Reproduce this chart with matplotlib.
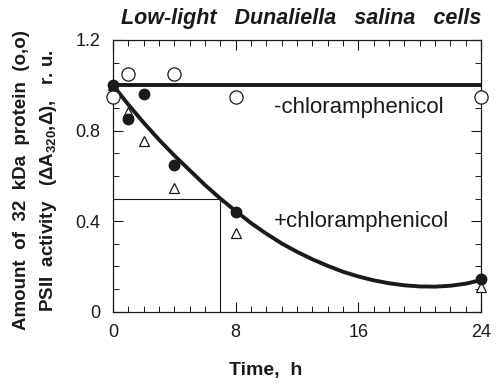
import numpy as np
import matplotlib
matplotlib.use("Agg")
import matplotlib.pyplot as plt
from matplotlib.ticker import MultipleLocator

plt.rcParams["font.family"] = ["Liberation Sans", "DejaVu Sans"]
plt.rcParams["mathtext.fontset"] = "custom"
plt.rcParams["mathtext.bf"] = "Liberation Sans:bold"
plt.rcParams["mathtext.rm"] = "Liberation Sans:bold"
plt.rcParams["mathtext.default"] = "bf"

# -chloramphenicol, 32 kDa protein (open circles)
t_open = [0, 1, 4, 8, 24]
y_open = [0.95, 1.05, 1.05, 0.95, 0.95]

# +chloramphenicol, 32 kDa protein (filled circles)
t_fill = [0, 1, 2, 4, 8, 24]
y_fill = [1.0, 0.85, 0.96, 0.65, 0.44, 0.145]

# +chloramphenicol, PSII activity (triangles)
t_tri = [0, 1, 2, 4, 8, 24]
y_tri = [1.0, 0.88, 0.755, 0.545, 0.35, 0.11]

# fitted curves
t_flat = [0, 24]
y_flat = [1.0, 1.0]
t_curve = list(range(0, 25))
y_curve = [1.0, 0.915, 0.835, 0.76, 0.69, 0.625, 0.56, 0.5, 0.445,
           0.392, 0.345, 0.302, 0.265, 0.232, 0.203, 0.177, 0.156,
           0.139, 0.126, 0.117, 0.112, 0.111, 0.115, 0.124, 0.14]

# half-time guide
t_half = 7
y_half = 0.5

ink = "#1a1a1a"

fig = plt.figure(figsize=(5.02, 3.84), dpi=100)
ax = fig.add_axes([0.225, 0.188, 0.733, 0.708])

ax.plot(t_flat, y_flat, color=ink, lw=2.8, zorder=2)
ax.plot(t_curve, y_curve, color=ink, lw=2.8, zorder=2, solid_joinstyle="round")
ax.plot([0, t_half], [y_half, y_half], color=ink, lw=0.8, zorder=1)
ax.plot([t_half, t_half], [0, y_half], color=ink, lw=0.8, zorder=1)

ax.plot(t_open, y_open, "o", ms=9.5, mfc="white", mec=ink, mew=0.9,
        clip_on=False, zorder=3)
ax.plot(t_tri, y_tri, "^", ms=7, mfc="white", mec=ink, mew=0.9,
        clip_on=False, zorder=3)
ax.plot(t_fill, y_fill, "o", ms=7.5, color=ink, clip_on=False, zorder=4)

ax.text(10.5, 0.9, "-chloramphenicol", fontsize=16, color=ink, va="center")
ax.text(10.5, 0.40, "+chloramphenicol", fontsize=16, color=ink, va="center")

ax.set_xlim(0, 24)
ax.set_ylim(0, 1.2)
ax.set_xticks([0, 8, 16, 24])
ax.set_yticks([0, 0.4, 0.8, 1.2])
ax.set_yticklabels(["0", "0.4", "0.8", "1.2"])
ax.xaxis.set_minor_locator(MultipleLocator(1))
ax.yaxis.set_minor_locator(MultipleLocator(0.1))
ax.tick_params(which="both", direction="in", top=True, right=True,
               colors=ink, labelsize=13)
ax.tick_params(which="major", length=7, width=0.8, pad=9)
ax.tick_params(which="minor", length=4, width=0.7)
for s in ax.spines.values():
    s.set_linewidth(0.9)
    s.set_color(ink)

ax.set_xlabel("Time,  h", fontsize=14, fontweight="bold", color=ink)
ax.xaxis.set_label_coords(0.415, -0.185)

fig.text(0.043, 0.53, "Amount  of  32  kDa  protein  (o,o)", rotation=90,
         ha="center", va="center", fontsize=13.5, fontweight="bold", color=ink)
fig.text(0.097, 0.53, r"PSII  activity   ($\Delta$A$_{320}$,$\Delta$),   r. u.",
         rotation=90, ha="center", va="center", fontsize=13.5,
         fontweight="bold", color=ink)

fig.text(0.6, 0.953, "Low-light   Dunaliella   salina   cells", ha="center",
         va="center", fontsize=15.5, fontweight="bold", style="italic", color=ink)

fig.savefig("out.png", dpi=100)
